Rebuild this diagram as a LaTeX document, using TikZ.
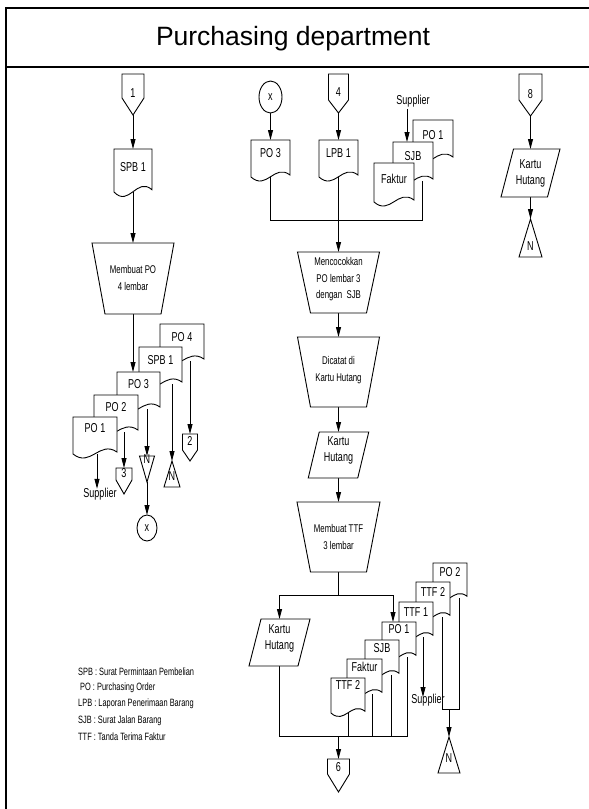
\documentclass[tikz,border=0pt]{standalone}
\usepackage{fontspec}
\setmainfont{Liberation Sans}
\newfontfamily\nar[FakeStretch=0.7]{Liberation Sans}
\usetikzlibrary{arrows.meta}
\pgfdeclarelayer{bg}\pgfsetlayers{bg,main}
\tikzset{
 ln/.style={line width=0.9pt},
 frame/.style={line width=1.8pt},
 arr/.style={ln,-{Triangle[length=10pt,width=5pt]}},
 shp/.style={ln,fill=white,line join=miter},
 title/.style={font=\fontsize{26.5}{30}\selectfont,inner sep=0pt},
 txs/.style={font=\nar\fontsize{11.2}{16.5}\selectfont,inner sep=0pt,align=center},
 txb/.style={font=\nar\fontsize{12.9}{16}\selectfont,inner sep=0pt,align=center},
 txl/.style={font=\nar\fontsize{10.6}{12}\selectfont,inner sep=0pt,anchor=west},
}
% document: name,x,y,w,h,d,dy,text
\newcommand\Doc[8]{%
 \draw[shp] (#2,#3) -- ({#2+#4},#3) -- ({#2+#4},{#3+#5-0.5*#6})
   .. controls ({#2+0.6*#4},{#3+#5-3.5*#6}) and ({#2+0.4*#4},{#3+#5+3.5*#6}) .. (#2,{#3+#5}) -- cycle;
 \node[txb] (#1) at ({#2+0.5*#4},{#3+#7}) {#8};
 \coordinate (#1-n) at ({#2+0.5*#4},#3);
 \coordinate (#1-s) at ({#2+0.5*#4},{#3+#5});
}
% off-page: name,cx,top,w,shoulder,tip,text,texty
\newcommand\Off[8]{%
 \draw[shp] ({#2-0.5*#4},#3) -- ({#2+0.5*#4},#3) -- ({#2+0.5*#4},#5) -- (#2,#6) -- ({#2-0.5*#4},#5) -- cycle;
 \node[txb] (#1) at (#2,#8) {#7};
 \coordinate (#1-n) at (#2,#3);
 \coordinate (#1-s) at (#2,#6);
}
% trapezoid: name,cx,top,bottom,topw,botw,text,texty
\newcommand\Trap[8]{%
 \draw[shp] ({#2-0.5*#5},#3) -- ({#2+0.5*#5},#3) -- ({#2+0.5*#6},#4) -- ({#2-0.5*#6},#4) -- cycle;
 \node[txs] (#1) at (#2,#8) {#7};
 \coordinate (#1-n) at (#2,#3);
 \coordinate (#1-s) at (#2,#4);
}
% parallelogram: name,cx,top,bottom,w,skew,text,texty
\newcommand\Para[8]{%
 \draw[shp] ({#2-0.5*#5+0.5*#6},#3) -- ({#2+0.5*#5+0.5*#6},#3) -- ({#2+0.5*#5-0.5*#6},#4) -- ({#2-0.5*#5-0.5*#6},#4) -- cycle;
 \node[txb] (#1) at (#2,#8) {#7};
 \coordinate (#1-n) at (#2,#3);
 \coordinate (#1-s) at (#2,#4);
}
% triangle up: name,cx,apex,base,halfw,texty
\newcommand\TriUp[6]{%
 \draw[shp] (#2,#3) -- ({#2+#5},#4) -- ({#2-#5},#4) -- cycle;
 \node[txb] (#1) at (#2,#6) {N};
 \coordinate (#1-n) at (#2,#3);
}
% triangle down: name,cx,top,tip,halfw,texty
\newcommand\TriDn[6]{%
 \draw[shp] ({#2-#5},#3) -- ({#2+#5},#3) -- (#2,#4) -- cycle;
 \node[txb] (#1) at (#2,#6) {N};
 \coordinate (#1-n) at (#2,#3);
 \coordinate (#1-s) at (#2,#4);
}
% ellipse: name,cx,cy,rx,ry,text
\newcommand\Circ[6]{%
 \draw[shp] (#2,#3) ellipse [x radius=#4pt, y radius=#5pt];
 \node[txb] (#1) at (#2,#3) {#6};
 \coordinate (#1-n) at (#2,{#3-#5});
 \coordinate (#1-s) at (#2,{#3+#5});
}
\begin{document}
\begin{tikzpicture}[x=1pt,y=-1pt]
\useasboundingbox (0,0) rectangle (589,809);
\draw[frame] (6,812) -- (6,8) -- (592,8);
\draw[frame] (6,67) -- (592,67);
\node[title] (ttl) at (293,39) {Purchasing department};

% ---- left column
\Off{c1}{133}{74}{22}{98}{115}{1}{93}
\Doc{spb1}{114}{149}{38}{43}{4.5}{18}{SPB 1}
\Trap{mpo}{133}{243}{314}{82}{56}{Membuat PO\\4 lembar}{278}
\Doc{po4s}{160}{324}{44}{37}{4}{13}{PO 4}
\Doc{spb1s}{139}{347}{43}{37}{4}{13}{SPB 1}
\Doc{po3s}{117}{372}{43}{37}{4}{12}{PO 3}
\Doc{po2s}{94}{395}{44}{37}{4}{12}{PO 2}
\Doc{po1s}{73}{417}{44}{37}{4}{11}{PO 1}
\node[txb] (sup1) at (100,494) {Supplier};
\Off{c3}{124}{468}{16}{480}{494}{3}{473}
\TriDn{n1}{147}{456}{482}{7.5}{459}
\TriUp{n2}{172}{461}{487}{8}{476}
\Off{c2}{190}{434}{15}{450}{461}{2}{441}
\Circ{x2}{147}{528}{10}{13}{x}

% ---- middle column
\Circ{x1}{270.5}{97}{11.5}{16}{x}
\Off{c4}{338.5}{74}{20}{100}{113}{4}{92}
\Doc{po3m}{251}{140}{39}{37}{4}{13}{PO 3}
\Doc{lpb}{319}{140}{39}{37}{4}{13}{LPB 1}
\node[txb] (sup2) at (413,101) {Supplier};
\Doc{po1m}{413}{120}{40}{39}{4}{15}{PO 1}
\Doc{sjbm}{393}{142}{40}{39}{4}{14}{SJB}
\Doc{fakm}{374}{163}{40}{39}{4}{16}{Faktur}
\Trap{menc}{338.5}{252}{313}{82}{56}{Mencocokkan\\PO lembar 3\\dengan~ SJB}{279.5}
\Trap{dic}{338.5}{337}{407}{82}{56}{Dicatat di\\Kartu Hutang}{370}
\Para{kh1}{338.5}{432}{478}{49.5}{11}{Kartu\\Hutang}{450.5}
\Trap{mttf}{338.5}{502}{572}{83}{56}{Membuat TTF\\3 lembar}{537}
\Para{kh2}{279.5}{619}{666}{49}{12}{Kartu\\Hutang}{638}
\Doc{po2b}{433}{563}{34}{35}{3.5}{9}{PO 2}
\Doc{ttf2b}{416}{582}{34}{35}{3.5}{10}{TTF 2}
\Doc{ttf1b}{399}{602}{34}{35}{3.5}{10}{TTF 1}
\Doc{po1b}{382}{622}{34}{35}{3.5}{7}{PO 1}
\Doc{sjbb}{365}{640}{34}{35}{3.5}{8}{SJB}
\Doc{fakb}{347}{659}{35}{35}{3.5}{8}{Faktur}
\Doc{ttf2f}{331}{678}{34}{35}{3.5}{7}{TTF 2}
\node[txb] (sup3) at (428,700) {Supplier};
\coordinate (s3end) at (423,697);
\TriUp{n4}{449}{737}{773}{11}{758}
\Off{c6}{338.5}{759}{22}{774}{792}{6}{767}

% ---- right column
\Off{c8}{530.5}{74}{23}{100}{116}{8}{94}
\Para{kh3}{530.5}{149}{197}{46.5}{12.5}{Kartu\\Hutang}{173}
\TriUp{n3}{530.5}{219}{257}{11.5}{246}

% ---- legend
\node[txl] (lg1) at (78,672) {SPB : Surat Permintaan Pembelian};
\node[txl] (lg2) at (80,688) {PO : Purchasing Order};
\node[txl] (lg3) at (78,704) {LPB : Laporan Penerimaan Barang};
\node[txl] (lg4) at (78,721) {SJB : Surat Jalan Barang};
\node[txl] (lg5) at (78,737) {TTF : Tanda Terima Faktur};

\coordinate (j1) at (338.5,220);
\coordinate (j2) at (338.5,595);
\coordinate (j3) at (338.5,736);
\coordinate (j4) at (449,709);

\begin{pgfonlayer}{bg}
\draw[arr] (c1-s) -- (spb1-n);
\draw[arr] (spb1-s) -- (mpo-n);
\draw[arr] (mpo-s) -- (mpo-s |- po3s-n);
\draw[arr] ([xshift=2pt]po1s-s) -- ([xshift=2pt,yshift=-1pt]po1s-s |- sup1.north);
\draw[arr] ([xshift=8pt]po2s-s) -- (c3-n);
\draw[arr] ([xshift=8.5pt]po3s-s) -- (n1-n);
\draw[arr] (n1-s) -- (x2-n);
\draw[arr] ([xshift=11.5pt]spb1s-s) -- (n2-n);
\draw[arr] ([xshift=8pt]po4s-s) -- (c2-n);

\draw[arr] (x1-s) -- (po3m-n);
\draw[arr] (c4-s) -- (lpb-n);
\draw[arr] ([xshift=-6pt,yshift=-2pt]sup2.south) -- ([xshift=-6pt]sjbm-n);
\draw[ln] (po3m-s) |- (j1);
\draw[ln] ([xshift=9pt]sjbm-s) |- (j1);
\draw[arr] (lpb-s) -- (menc-n);
\draw[arr] (menc-s) -- (dic-n);
\draw[arr] (dic-s) -- (kh1-n);
\draw[arr] (kh1-s) -- (mttf-n);
\draw[ln] (mttf-s) -- (j2);
\draw[arr] (j2) -| (kh2-n);
\draw[arr] (j2) -| ([xshift=-6pt]po1b-n);
\draw[ln] (kh2-s) |- (j3);
\draw[ln] (ttf2f-s) |- (j3);
\draw[ln] ([xshift=8pt]fakb-s) |- (j3);
\draw[ln] ([xshift=9pt]sjbb-s) |- (j3);
\draw[ln] ([xshift=8pt]po1b-s) |- (j3);
\draw[arr] (j3) -- (c6-n);
\draw[arr] ([xshift=7pt]ttf1b-s) -- (s3end);
\draw[ln] ([xshift=9pt]ttf2b-s) |- (j4);
\draw[ln] ([xshift=9pt]po2b-s) |- (j4);
\draw[arr] (j4) -- (n4-n);

\draw[arr] (c8-s) -- (kh3-n);
\draw[arr] (kh3-s) -- (n3-n);
\end{pgfonlayer}
\end{tikzpicture}
\end{document}
